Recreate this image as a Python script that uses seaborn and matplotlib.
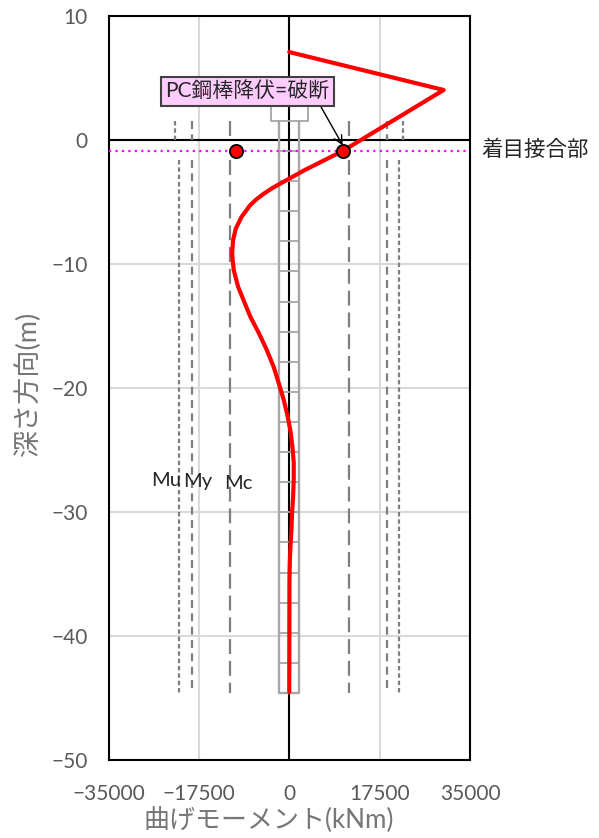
import matplotlib
matplotlib.use("Agg")
import matplotlib.pyplot as plt
import numpy as np
import pandas as pd
import seaborn as sns

moment = [0, 29900, 10360, 3000, -1200, -3300, -5070, -6500, -7650, -9250, -10360, -10880, -11070, -10750, -9910, -8610,
          -7510, -5900, -4360, -3000, -2030, -1060, -290, 290, 620, 870, 870, 740, 540, 430, 230, 100, 40, 0]
depth = [7.13, 4.07, -0.85, -2.39, -3.36, -3.85, -4.34, -4.80, -5.27, -6.18, -7.12, -8.06, -9.14, -10.46, -11.8, -13.14,
         -14.25, -15.54, -16.9, -18.3, -19.6, -20.95, -22.3, -23.6, -24.75, -26.0, -27.4, -28.8, -30.1, -31.4,
         -32.8, -34.1, -35.5, -44.5]
marker_x = [-10400, 10360]
marker_y = [-0.85, -0.85]
focus_depth = -0.85
mc = [-11500, 11500]
my = [-18900, 18850]
mu_top = [-22050, 21950]
mu_low = [-21400, 21300]
limit_top = [1.6, 0.0]
limit_low = [-1.6, -44.6]
pile_half = 1900
pile_top = 1.6
pile_bottom = -44.6
cap_half = 3600
cap_top = 3.0
pile_joints = [-0.85, -3.28, -5.71, -8.14, -10.57, -13.0, -15.43, -17.86, -20.29, -22.72, -25.15,
               -27.58, -30.01, -32.44, -34.87, -37.3, -39.73, -42.16, -44.6]
xticks = [-35000, -17500, 0, 17500, 35000]
yticks = [10, 0, -10, -20, -30, -40, -50]

sns.set_theme(style="white")
FONT = ["Lato", "Noto Sans CJK JP", "DejaVu Sans"]
plt.rcParams["font.family"] = FONT
GREY = "#595959"
LABEL_GREY = "#767676"

W, H = 599, 838
fig = plt.figure(figsize=(W / 100, H / 100), dpi=100)
ax = fig.add_axes([108.5 / W, 1 - 760 / H, (470 - 108.5) / W, (760 - 16.5) / H])
ax.set_xlim(-35000, 35000)
ax.set_ylim(-50, 10)
ax.set_xticks(xticks)
ax.set_yticks(yticks)
ax.tick_params(length=0, labelsize=15, labelcolor=GREY)
ax.tick_params(axis="x", pad=17)
ax.tick_params(axis="y", pad=15)
ax.grid(True, color="#d9d9d9", lw=1.5, zorder=0)
ax.set_axisbelow(True)
for s in ax.spines.values():
    s.set_color("black")
    s.set_linewidth(1.5)
ax.axhline(0, color="black", lw=1.5, zorder=1)
ax.axvline(0, color="black", lw=1.5, zorder=1)

# pile outline
pc = "#a6a6a6"
ax.plot([-cap_half, -cap_half, cap_half, cap_half, -cap_half],
        [cap_top, pile_top, pile_top, cap_top, cap_top], color=pc, lw=1.3, zorder=2)
ax.plot([-pile_half, -pile_half, pile_half, pile_half],
        [pile_top, pile_bottom, pile_bottom, pile_top], color=pc, lw=1.7, zorder=2)
ax.hlines(pile_joints, -pile_half, pile_half, color=pc, lw=1.3, zorder=2)

# capacity lines
dash_c = (0, (6.7, 3.1))
dash_y = (0, (3.6, 2.4))
dash_u = (0, (2.0, 1.3))
lc = "#7f7f7f"
for i in range(2):
    ax.plot([mc[i]] * 2, limit_top, color=lc, lw=1.6, ls=dash_c, zorder=3)
    ax.plot([mc[i]] * 2, limit_low, color=lc, lw=1.6, ls=dash_c, zorder=3)
    ax.plot([my[i]] * 2, limit_top, color=lc, lw=1.6, ls=dash_y, zorder=3)
    ax.plot([my[i]] * 2, limit_low, color=lc, lw=1.6, ls=dash_y, zorder=3)
    ax.plot([mu_top[i]] * 2, limit_top, color=lc, lw=1.6, ls=dash_u, zorder=3)
    ax.plot([mu_low[i]] * 2, limit_low, color=lc, lw=1.6, ls=dash_u, zorder=3)

# focus joint line
ax.plot([-35000, 35000], [focus_depth] * 2, color="#ff00ff", lw=1.6, ls=(0, (1, 1.9)), zorder=3)

# moment curve
df = pd.DataFrame({"moment": moment, "depth": depth})
sns.lineplot(data=df, x="moment", y="depth", sort=False, estimator=None, color="#ff0000", lw=3.0, ax=ax, zorder=4)
ax.set_xlim(-35000, 35000)
ax.set_ylim(-50, 10)
ax.set_xlabel("")
ax.set_ylabel("")
sns.scatterplot(x=marker_x, y=marker_y, s=90, color="#ff0000", edgecolor="black", linewidth=1.3, ax=ax, zorder=5)

ax.annotate("PC鋼棒降伏=破断", xy=(10360, -0.4), xytext=(-8100, 3.95), ha="center", va="center",
            fontsize=15, color="#262626", zorder=6,
            bbox=dict(boxstyle="square,pad=0.2", fc="#ffccff", ec="#404040", lw=1.5),
            arrowprops=dict(arrowstyle="->", color="black", lw=1.0, relpos=(0.93, 0), shrinkA=0, shrinkB=0))

txt = dict(color="#262626", fontsize=14.5, va="center", ha="center")
fig.text(166 / W, 1 - 480 / H, "Mu", **txt)
fig.text(198 / W, 1 - 481 / H, "My", **txt)
fig.text(238 / W, 1 - 483 / H, "Mc", **txt)
fig.text(534.5 / W, 1 - 150 / H, "着目接合部", color="#262626", fontsize=15.5, va="center", ha="center")
fig.text(269 / W, 1 - 820 / H, "曲げモーメント(kNm)", color=LABEL_GREY, fontsize=18.7, va="center", ha="center")
fig.text(28 / W, 1 - 383 / H, "深さ方向(m)", color=LABEL_GREY, fontsize=19.5, va="center", ha="center", rotation=90)

fig.savefig("out.png", dpi=100)
